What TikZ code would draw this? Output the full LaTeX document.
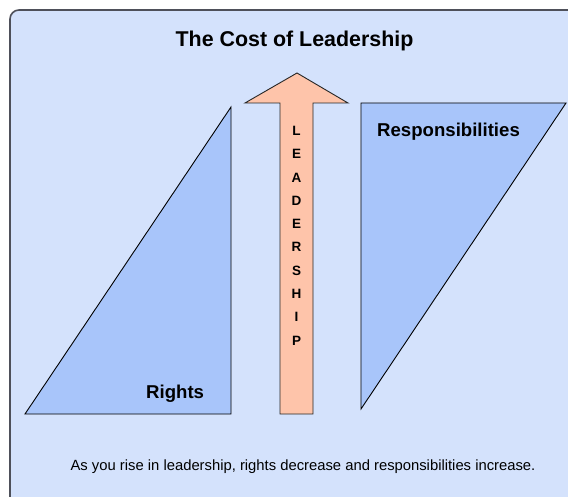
\documentclass[tikz,border=0pt]{standalone}
\usepackage{fontspec}
\setmainfont{Liberation Sans}
\usepackage{xcolor}
\usetikzlibrary{positioning}
\definecolor{panelblue}{RGB}{212,226,252}
\definecolor{panelgray}{RGB}{78,80,90}
\definecolor{wedgeblue}{RGB}{168,197,250}
\definecolor{arrowpeach}{RGB}{254,196,170}
\tikzset{
  panel/.style={draw=panelgray, line width=1.6pt, fill=panelblue, 
  rounded corners=9pt},
  wedge/.style={draw=black, line width=0.9pt, fill=wedgeblue},
  uparrow/.style={draw=black!85, line width=0.9pt, fill=arrowpeach},
  heading/.style={font=\bfseries\fontsize{21.4}{24}\selectfont, inner sep=0pt},
  tag/.style={font=\bfseries\fontsize{18.6}{21}\selectfont, inner sep=0pt},
  letter/.style={font=\bfseries\fontsize{13.5}{15}\selectfont, inner sep=0pt},
  caption/.style={font=\fontsize{14.8}{17}\selectfont, inner sep=0pt}
}

\begin{document}
\begin{tikzpicture}[x=1pt,y=-1pt]
\useasboundingbox (0,0) rectangle (568,497);
\clip (0,0) rectangle (568,497);
\draw[panel] (10,10) rectangle (600,530);
% rights and responsibilities
\draw[wedge] (231,107) -- (231,414) -- (25,414) -- cycle;
\draw[wedge] (361,103) -- (566,103) -- (361,409) -- cycle;
% leadership arrow
\draw[uparrow] (280,414) -- (280,103) -- (245,103) -- (297,73) 
	-- (348,103) -- (313,103) -- (313,414) -- cycle;
\foreach \ch [count=\i from 0] in {L,E,A,D,E,R,S,H,I,P}
	\node[letter, anchor=base] (lt\i) at (296.5,135.5+23.3*\i) {\ch};
\node[heading, anchor=base] (title) at (294.5,47) {The Cost of Leadership};
\node[tag, anchor=base west] (resp) at (377,137) {Responsibilities};
\node[tag, anchor=base west] (rights) at (146,398) {Rights};
\node[caption, anchor=base] (note) at (303,470) 
	{As you rise in leadership, rights decrease and responsibilities increase.};
\end{tikzpicture}
\end{document}
